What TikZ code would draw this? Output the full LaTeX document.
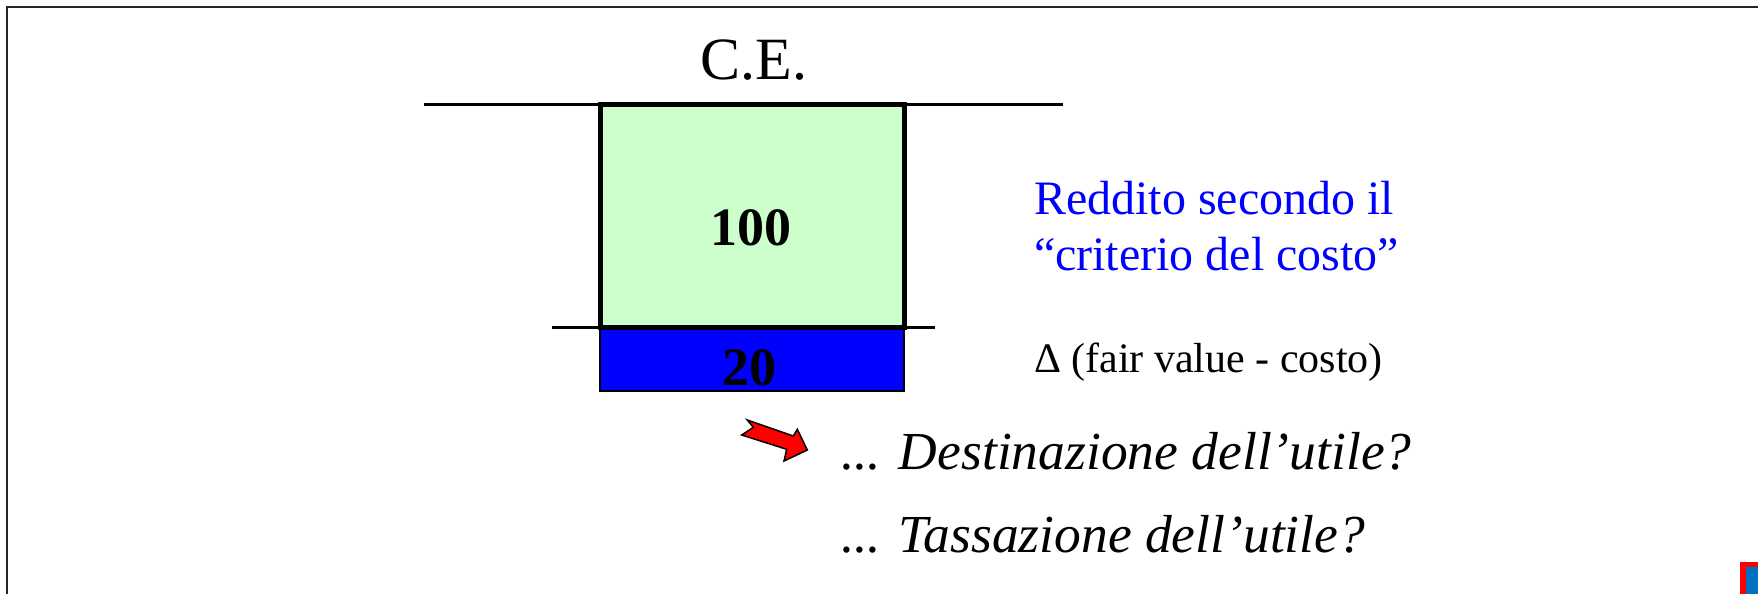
\documentclass[tikz,border=0pt]{standalone}
\usepackage{fontspec}
\setmainfont{Liberation Serif}
\definecolor{paleGreen}{RGB}{204,255,204}
\definecolor{pureBlue}{RGB}{0,0,255}
\definecolor{iconBlue}{RGB}{0,112,192}
\tikzset{
  rule/.style={line width=3pt, black},
  txt/.style={inner sep=0pt, outer sep=0pt},
}
\begin{document}
\begin{tikzpicture}[x=1pt, y=-1pt]
\clip (0,0) rectangle (1758,594);
\fill[white] (0,0) rectangle (1758,594);
% slide frame
\draw[line width=2pt, black!85] (7,700) -- (7,7) -- (1800,7);
% boxes
\node[txt, draw=black, line width=1.3pt, fill=pureBlue, minimum width=304pt, minimum height=64pt, anchor=north west] (blu) at (600,327) {};
\node[txt, draw=black, line width=5pt, fill=paleGreen, minimum width=304pt, minimum height=223pt, anchor=north west] (grn) at (600,104) {};
% rules
\coordinate (t1) at (424,104); \coordinate (t2) at (1063,104);
\coordinate (m1) at (552,327); \coordinate (m2) at (935,327);
\draw[rule] (t1) -- (t2);
\draw[rule] (m1) -- (m2);
% texts
\node[txt, anchor=base] (ce) at (754,80) {\fontsize{60}{60}\selectfont C.E.};
\node[txt, anchor=base] (v100) at (751,245) {\fontsize{54}{54}\selectfont\bfseries 100};
\node[txt, anchor=base] (v20) at (749,385) {\fontsize{54}{54}\selectfont\bfseries 20};
\node[txt, anchor=base west, text=pureBlue] (red1) at (1034,214) {\fontsize{48}{48}\selectfont Reddito secondo il};
\node[txt, anchor=base west, text=pureBlue] (red2) at (1034,270) {\fontsize{48}{48}\selectfont ``criterio del costo''};
\node[txt, anchor=base west] (delta) at (1034,372) {\fontsize{42}{42}\selectfont Δ (fair value - costo)};
\node[txt, anchor=base west] (q1) at (841,469) {\fontsize{53.5}{53.5}\selectfont\itshape ... Destinazione dell’utile?};
\node[txt, anchor=base west] (q2) at (841,552) {\fontsize{53.5}{53.5}\selectfont\itshape ... Tassazione dell’utile?};
% red arrow
\draw[fill=red, draw=black, line width=1.5pt, line join=miter]
  (747.3,420) -- (753.3,427.3) -- (741.7,435) -- (786.7,449.3) -- (784,461)
  -- (807.3,450) -- (797.3,429.3) -- (793.3,436) -- cycle;
% corner icon
\fill[red] (1740,562) rectangle (1770,600);
\fill[iconBlue] (1746,567) rectangle (1770,600);
\end{tikzpicture}
\end{document}
